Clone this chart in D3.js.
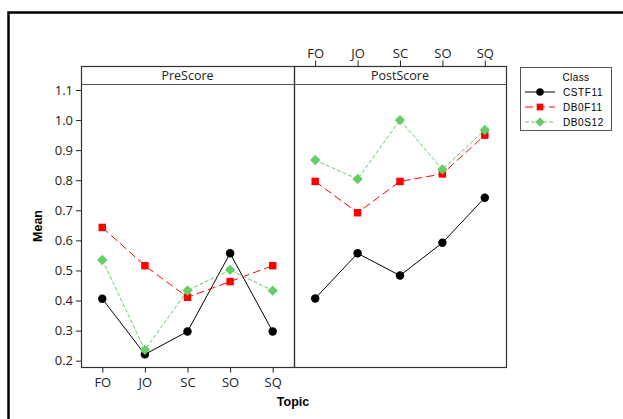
<!DOCTYPE html>
<html><head><meta charset="utf-8">
<script src="https://cdn.jsdelivr.net/npm/d3@7"></script>
<style>
body{margin:0;background:#fff;}
svg{display:block;}
</style></head>
<body>
<svg id="c" width="623" height="419"></svg>
<script>
const topics = ["FO","JO","SC","SO","SQ"];
const panels = ["PreScore","PostScore"];
const classes = ["CSTF11","DB0F11","DB0S12"];
const yTicks = [0.2,0.3,0.4,0.5,0.6,0.7,0.8,0.9,1.0,1.1];
const preCSTF11 = [0.406,0.221,0.297,0.557,0.297];
const preDB0F11 = [0.643,0.516,0.411,0.463,0.516];
const preDB0S12 = [0.535,0.236,0.433,0.502,0.433];
const postCSTF11 = [0.407,0.557,0.483,0.592,0.742];
const postDB0F11 = [0.796,0.692,0.796,0.821,0.950];
const postDB0S12 = [0.867,0.804,1.000,0.836,0.967];

const seriesData = {
  PreScore: {CSTF11: preCSTF11, DB0F11: preDB0F11, DB0S12: preDB0S12},
  PostScore: {CSTF11: postCSTF11, DB0F11: postDB0F11, DB0S12: postDB0S12}
};
const style = {
  CSTF11: {color:"#000000", dash:null, shape:d3.symbolCircle, size:56, rot:0},
  DB0F11: {color:"#ff0000", dash:"8,4", shape:d3.symbolSquare, size:56, rot:0},
  DB0S12: {color:"#66cc66", dash:"4,2", shape:d3.symbolSquare, size:54, rot:45}
};

const svg = d3.select("#c");
const font = "'Open Sans', sans-serif";

svg.append("rect").attr("x",8.5).attr("y",12.5).attr("width",800).attr("height",600)
  .attr("fill","none").attr("stroke","#000").attr("stroke-width",2.5);

const pTop = 66.5, stripH = 17.5, pBottom = 367.5;
const panelX = {PreScore:[81,294], PostScore:[294,506]};
const y = d3.scaleLinear().domain([1.1,0.2]).range([90,360.7]);

panels.forEach(p=>{
  const [x0,x1] = panelX[p];
  const x = d3.scalePoint().domain(topics).range([x0,x1]).padding(0.5);
  const g = svg.append("g");
  g.append("rect").attr("x",x0+0.5).attr("y",pTop).attr("width",x1-x0).attr("height",pBottom-pTop)
    .attr("fill","none").attr("stroke","#333").attr("stroke-width",1.2);
  g.append("line").attr("x1",x0).attr("x2",x1).attr("y1",pTop+stripH+0.5).attr("y2",pTop+stripH+0.5)
    .attr("stroke","#555").attr("stroke-width",1);
  g.append("text").attr("x",(x0+x1)/2).attr("y",pTop+13).attr("text-anchor","middle")
    .attr("font-family",font).attr("font-size",12.5).attr("fill","#222").text(p);

  classes.forEach(c=>{
    const st = style[c];
    const vals = seriesData[p][c];
    const line = d3.line().x((d,i)=>x(topics[i])).y(d=>y(d));
    g.append("path").attr("d",line(vals)).attr("fill","none").attr("stroke",st.color)
      .attr("stroke-width",1).attr("stroke-dasharray",st.dash);
    g.selectAll(null).data(vals).enter().append("path")
      .attr("d",d3.symbol().type(st.shape).size(st.size))
      .attr("transform",(d,i)=>`translate(${x(topics[i])},${y(d)}) rotate(${st.rot})`)
      .attr("fill",st.color);
  });

  if(p==="PreScore"){
    const ax = svg.append("g").attr("transform",`translate(0,${pBottom})`)
      .call(d3.axisBottom(x).tickSize(5).tickSizeOuter(0));
    ax.select(".domain").remove();
    ax.selectAll("line").attr("stroke","#222");
    ax.selectAll("text").attr("font-family",font).attr("font-size",13).attr("fill","#222").attr("dy","0.85em");
  } else {
    const ax = svg.append("g").attr("transform",`translate(0,${pTop})`)
      .call(d3.axisTop(x).tickSize(6).tickSizeOuter(0));
    ax.select(".domain").remove();
    ax.selectAll("line").attr("stroke","#222");
    ax.selectAll("text").attr("font-family",font).attr("font-size",13).attr("fill","#222");
  }
});

const ay = svg.append("g").attr("transform",`translate(81,0)`)
  .call(d3.axisLeft(y).tickValues(yTicks).tickFormat(d3.format(".1f")).tickSize(5));
ay.select(".domain").remove();
ay.selectAll("line").attr("stroke","#222");
ay.selectAll("text").attr("font-family",font).attr("font-size",13).attr("fill","#222");

svg.append("text").attr("transform","translate(42,226) rotate(-90)").attr("text-anchor","middle")
  .attr("font-family","'Liberation Sans', Arial, sans-serif").attr("font-weight","bold").attr("font-size",12.5).text("Mean");
svg.append("text").attr("x",293).attr("y",406).attr("text-anchor","middle")
  .attr("font-family","'Liberation Sans', Arial, sans-serif").attr("font-weight","bold").attr("font-size",12.5).text("Topic");

const lg = svg.append("g");
lg.append("rect").attr("x",520.5).attr("y",67.5).attr("width",91).attr("height",63)
  .attr("fill","#fff").attr("stroke","#555").attr("stroke-width",1);
const lf = "'Liberation Sans', Arial, sans-serif";
lg.append("text").attr("x",576).attr("y",81).attr("text-anchor","middle")
  .attr("font-family",lf).attr("font-size",10).attr("letter-spacing",0.4).text("Class");
classes.forEach((c,i)=>{
  const st = style[c];
  const yy = 92 + i*15;
  lg.append("line").attr("x1",525).attr("x2",555).attr("y1",yy).attr("y2",yy)
    .attr("stroke",st.color).attr("stroke-width",1).attr("stroke-dasharray",st.dash);
  lg.append("path").attr("d",d3.symbol().type(st.shape).size(st.size*0.8)())
    .attr("transform",`translate(540,${yy}) rotate(${st.rot})`).attr("fill",st.color);
  lg.append("text").attr("x",563).attr("y",yy+3.5).attr("font-family",lf).attr("font-size",10)
    .attr("letter-spacing",0.6).text(c);
});
</script>
</body></html>
